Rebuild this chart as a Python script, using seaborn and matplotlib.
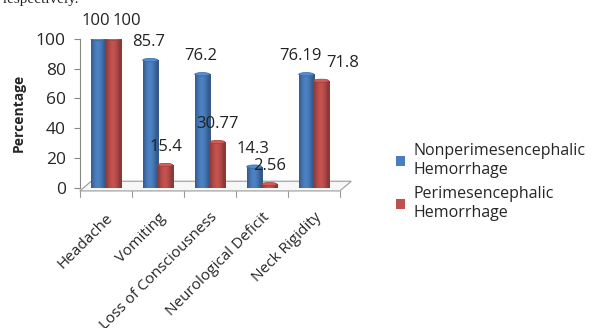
import numpy as np
import pandas as pd
import matplotlib
matplotlib.use("Agg")
import matplotlib.pyplot as plt
from matplotlib.patches import Polygon, Ellipse
import matplotlib.colors as mcolors
import seaborn as sns

categories = ["Headache", "Vomiting", "Loss of Consciousness",
              "Neurological Deficit", "Neck Rigidity"]
nonperi = [100, 85.7, 76.2, 14.3, 76.19]
peri = [100, 15.4, 30.77, 2.56, 71.8]
nonperi_labels = ["100", "85.7", "76.2", "14.3", "76.19"]
peri_labels = ["100", "15.4", "30.77", "2.56", "71.8"]
series = ["Nonperimesencephalic\nHemorrhage", "Perimesencephalic\nHemorrhage"]
y_ticks = [0, 20, 40, 60, 80, 100]

df = pd.DataFrame({
    "Symptom": categories * 2,
    "Percentage": nonperi + peri,
    "Group": [series[0]] * len(categories) + [series[1]] * len(categories),
})

sns.set_theme(style="white")
plt.rcParams["font.family"] = ["Open Sans", "DejaVu Sans"]

blue = "#4a7ebf"
red = "#c0504d"

fig = plt.figure(figsize=(5.91, 3.28), dpi=100)
ax = fig.add_axes([0.135, 0.427, 0.44, 0.455])

sns.barplot(data=df, x="Symptom", y="Percentage", hue="Group",
            palette=[blue, red], width=0.58, ax=ax, legend=True,
            saturation=1, edgecolor="none")

# cylinder shading: horizontal gradient clipped to each bar, plus a cap
for patch, col in zip(ax.patches[:10], [blue] * 5 + [red] * 5):
    x0, y0 = patch.get_x(), patch.get_y()
    w, h = patch.get_width(), patch.get_height()
    base = np.array(mcolors.to_rgb(col))
    t = np.linspace(0, 1, 40)
    shade = 0.72 + 0.3 * np.sin(np.pi * np.clip(t * 1.15, 0, 1))
    img = np.clip(base[None, :] * shade[:, None], 0, 1)[None, :, :]
    im = ax.imshow(img, extent=[x0, x0 + w, y0, y0 + h], aspect="auto",
                   zorder=patch.get_zorder() + 0.1, interpolation="bilinear")
    im.set_clip_path(patch)
    cap = Ellipse((x0 + w / 2, y0 + h), w, 2.2,
                  facecolor=np.clip(base * 1.12, 0, 1), edgecolor=np.clip(base * 0.8, 0, 1),
                  linewidth=0.5, zorder=patch.get_zorder() + 0.2)
    ax.add_patch(cap)

ax.set_xlim(-0.5, 4.5)
ax.set_ylim(0, 100)
ax.set_yticks(y_ticks)
ax.set_yticklabels([str(v) for v in y_ticks], fontsize=12.5)
ax.set_xlabel("")
ax.set_ylabel("Percentage", fontsize=10, fontweight="bold", labelpad=7)
ax.set_xticks(range(len(categories)))
ax.set_xticklabels(categories, rotation=45, ha="right", rotation_mode="anchor",
                   fontsize=11)
ax.tick_params(axis="x", length=0, pad=16)
ax.tick_params(axis="y", length=4, width=0.8, color="#888888", left=True, pad=6)

for s in ["top", "right", "bottom"]:
    ax.spines[s].set_visible(False)
ax.spines["left"].set_color("#888888")
ax.spines["left"].set_linewidth(0.8)

# floor of the chart
floor = Polygon([(-0.5, -2), (4.5, -2), (4.72, 4.5), (-0.28, 4.5)], closed=True,
                facecolor="#f7f7f7", edgecolor="#9a9a9a", linewidth=0.8,
                zorder=0.5, clip_on=False, transform=ax.transData)
ax.add_patch(floor)
for b in np.arange(-0.5, 5.0, 1.0):
    ax.plot([b, b], [-2, -6], color="#9a9a9a", linewidth=0.8, clip_on=False, zorder=0.6)

# value labels: centred over the bars, except where neighbours would collide
blue_dx = [-0.2, -0.17, -0.17, -0.17, -0.25]
red_dx = [0.13, 0.15, 0.15, 0.15, 0.24]
red_ha = ["left", "center", "center", "center", "left"]
for i in range(len(categories)):
    ax.text(i + blue_dx[i], nonperi[i] + 12, nonperi_labels[i], ha="center",
            va="center", fontsize=12, color="#222222", clip_on=False, zorder=5)
    ax.text(i + red_dx[i], peri[i] + 12, peri_labels[i], ha=red_ha[i],
            va="center", fontsize=12, color="#222222", clip_on=False, zorder=5)

handles, labels = ax.get_legend_handles_labels()
ax.legend(handles, labels, loc="center left", bbox_to_anchor=(1.16, 0.04),
          frameon=False, fontsize=11.5, handlelength=0.6, handleheight=0.6,
          labelspacing=0.55, handletextpad=0.5)

fig.text(0.005, 1.0, "respectively.", fontsize=11, family="Liberation Serif",
         va="center", ha="left")

fig.savefig("out.png", dpi=100)
